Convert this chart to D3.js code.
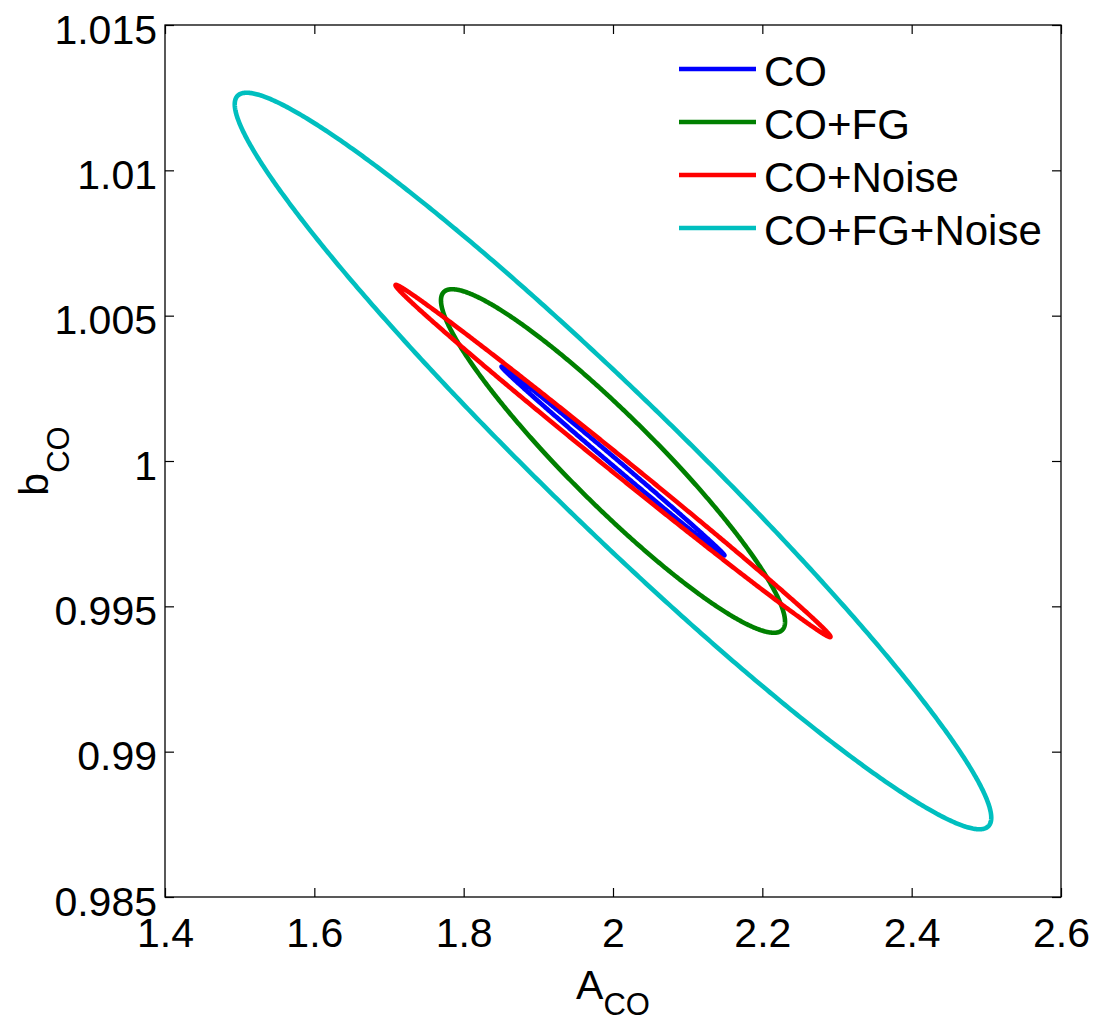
<!DOCTYPE html>
<html><head><meta charset="utf-8">
<script src="https://cdn.jsdelivr.net/npm/d3@7"></script>
<style>body{margin:0;background:#fff} text{font-family:"Liberation Sans",Arial,Helvetica,sans-serif;fill:#000}</style>
</head>
<body><svg id="chart" width="1097" height="1023"></svg>
<script>
// ---- data ----
const seriesNames = ["CO", "CO+FG", "CO+Noise", "CO+FG+Noise"];
const seriesColors = ["#0000ff", "#008000", "#ff0000", "#00bfbf"];
// ellipse descriptions: centre, half-extent along A, half-extent along b, correlation
const centerA = [2.0, 2.0, 2.0, 2.0];
const centerB = [1.0, 1.0, 1.0, 1.0];
const halfWidthA = [0.1493, 0.2304, 0.2913, 0.5066];
const halfHeightB = [0.00325, 0.00591, 0.00606, 0.01267];
const correlation = [-0.9988, -0.935, -0.998, -0.9685];
const xTickValues = [1.4, 1.6, 1.8, 2.0, 2.2, 2.4, 2.6];
const xTickLabels = ["1.4", "1.6", "1.8", "2", "2.2", "2.4", "2.6"];
const yTickValues = [0.985, 0.99, 0.995, 1.0, 1.005, 1.01, 1.015];
const yTickLabels = ["0.985", "0.99", "0.995", "1", "1.005", "1.01", "1.015"];

// ---- layout ----
const svg = d3.select("#chart");
const L = 165, T = 25, W = 896, H = 872;
const x = d3.scaleLinear().domain([1.4, 2.6]).range([L, L + W]);
const y = d3.scaleLinear().domain([0.985, 1.015]).range([T + H, T]);
const fs = 41;

// ellipse outlines
const angles = d3.range(0, 360, 0.5).map(a => a * Math.PI / 180);
const line = d3.line().x(d => x(d[0])).y(d => y(d[1]));
const ellipses = seriesNames.map((name, i) => {
  const s = Math.sqrt(1 - correlation[i] * correlation[i]);
  return angles.map(t => [
    centerA[i] + halfWidthA[i] * Math.cos(t),
    centerB[i] + halfHeightB[i] * (correlation[i] * Math.cos(t) + s * Math.sin(t))
  ]);
});

svg.append("g").selectAll("path").data(ellipses).join("path")
  .attr("d", d => line(d) + "Z")
  .attr("fill", "none")
  .attr("stroke", (d, i) => seriesColors[i])
  .attr("stroke-width", 4.6)
  .attr("stroke-linejoin", "round");

// axes (ticks inside on all four sides)
const tickLen = 9;
function styleAxis(g) {
  g.select(".domain").remove();
  g.selectAll(".tick line").attr("stroke", "#000").attr("stroke-width", 1.2);
}
const xb = svg.append("g").attr("transform", `translate(0,${T + H})`)
  .call(d3.axisBottom(x).tickValues(xTickValues).tickSize(-tickLen)
    .tickFormat((d, i) => xTickLabels[i]));
styleAxis(xb);
xb.selectAll(".tick text").attr("y", 50).attr("dy", null)
  .attr("font-size", fs).attr("font-family", null).attr("text-anchor", "middle");

const yl = svg.append("g").attr("transform", `translate(${L},0)`)
  .call(d3.axisLeft(y).tickValues(yTickValues).tickSize(-tickLen)
    .tickFormat((d, i) => yTickLabels[i]));
styleAxis(yl);
yl.selectAll(".tick text").attr("x", -8).attr("y", 18).attr("dy", null)
  .attr("font-size", fs).attr("font-family", null).attr("text-anchor", "end");

const xt = svg.append("g").attr("transform", `translate(0,${T})`)
  .call(d3.axisTop(x).tickValues(xTickValues).tickSize(-tickLen).tickFormat(""));
styleAxis(xt);
const yr = svg.append("g").attr("transform", `translate(${L + W},0)`)
  .call(d3.axisRight(y).tickValues(yTickValues).tickSize(-tickLen).tickFormat(""));
styleAxis(yr);

svg.append("rect").attr("x", L).attr("y", T).attr("width", W).attr("height", H)
  .attr("fill", "none").attr("stroke", "#000").attr("stroke-width", 1.3);

// axis labels
const xlab = svg.append("text").attr("x", x(2.0)).attr("y", 999)
  .attr("text-anchor", "middle").attr("font-size", fs);
xlab.append("tspan").text("A");
xlab.append("tspan").attr("font-size", 31).attr("dy", 16).text("CO");

const ylab = svg.append("text").attr("transform", `translate(48,${y(1.0)}) rotate(-90)`)
  .attr("text-anchor", "middle").attr("font-size", fs);
ylab.append("tspan").text("b");
ylab.append("tspan").attr("font-size", 31).attr("dy", 21).text("CO");

// legend
const lg = svg.append("g");
seriesNames.forEach((name, i) => {
  const ly = 69 + i * 53;
  lg.append("line").attr("x1", 679).attr("x2", 756).attr("y1", ly).attr("y2", ly)
    .attr("stroke", seriesColors[i]).attr("stroke-width", 4.6);
  lg.append("text").attr("x", 764).attr("y", ly + 17).attr("font-size", 42).text(name);
});
</script>
</body></html>
